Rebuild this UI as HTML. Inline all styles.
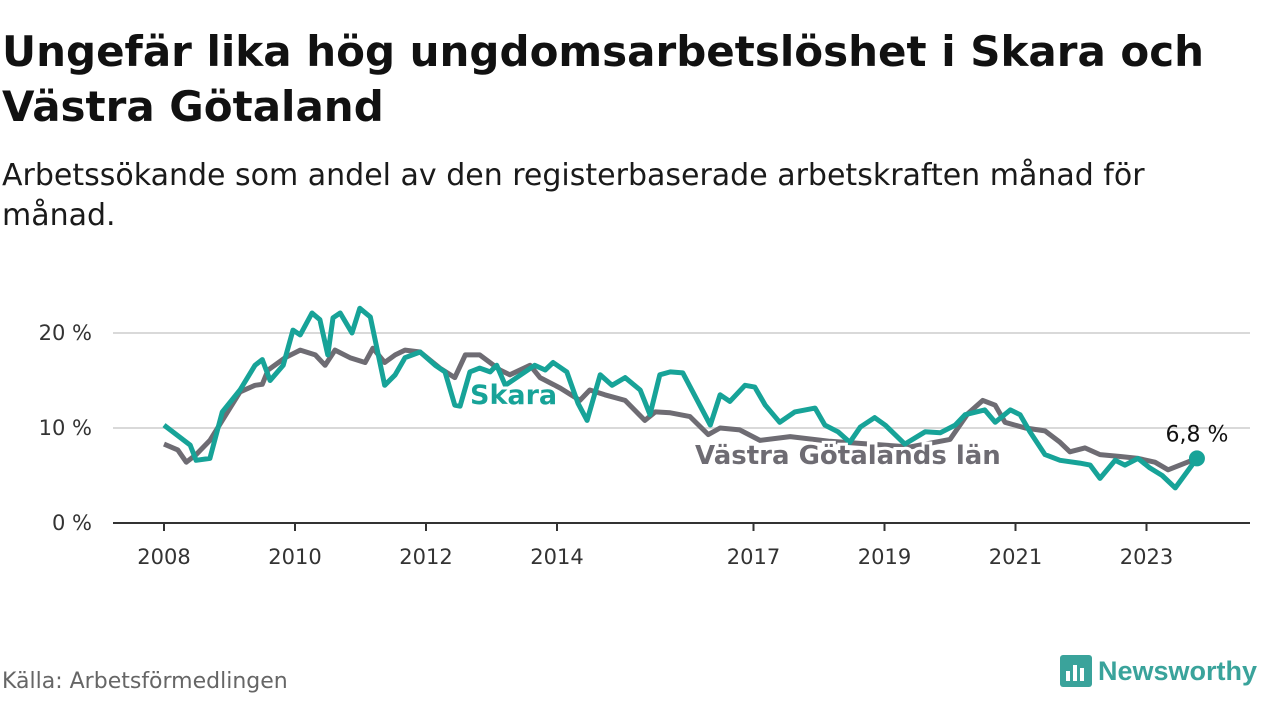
<!DOCTYPE html>
<html><head><meta charset="utf-8">
<style>
body{margin:0;width:1280px;height:720px;background:#fff;font-family:"DejaVu Sans","Liberation Sans",sans-serif;overflow:hidden;position:relative}
h1{position:absolute;left:2px;top:24px;margin:0;font-size:42px;line-height:55px;font-weight:bold;color:#111;letter-spacing:0px}
.sub{position:absolute;left:2px;top:156px;font-size:30px;line-height:40px;color:#1a1a1a}
.src{position:absolute;left:2px;top:669px;font-size:22px;color:#666}
.logo{position:absolute;left:1060px;top:655px;display:flex;align-items:center}
.logo span{font-size:27px;font-weight:bold;color:#3aa39b;margin-left:6px;font-family:"Liberation Sans",sans-serif}
</style></head><body>
<h1>Ungefär lika hög ungdomsarbetslöshet i Skara och<br>Västra Götaland</h1>
<div class="sub">Arbetssökande som andel av den registerbaserade arbetskraften månad för<br>månad.</div>
<svg id="chart" width="1280" height="720" style="position:absolute;left:0;top:0"></svg>
<div class="src">Källa: Arbetsförmedlingen</div>
<div class="logo">
<svg width="32" height="32"><rect x="0" y="0" width="32" height="32" rx="3" fill="#3aa39b"/><rect x="6" y="16" width="4" height="10" fill="#fff"/><rect x="13" y="10" width="4" height="16" fill="#fff"/><rect x="20" y="13" width="4" height="13" fill="#fff"/></svg>
<span>Newsworthy</span></div>
<script>
const skaraDates=[0,0.40,0.49,0.70,0.89,1.16,1.39,1.50,1.62,1.82,1.97,2.08,2.26,2.38,2.50,2.58,2.69,2.87,2.99,3.15,3.37,3.53,3.68,3.91,4.14,4.29,4.44,4.52,4.67,4.82,4.98,5.08,5.21,5.66,5.82,5.94,6.15,6.32,6.46,6.66,6.84,7.04,7.27,7.42,7.57,7.73,7.92,8.18,8.34,8.49,8.64,8.87,9.02,9.18,9.40,9.63,9.94,10.09,10.29,10.47,10.63,10.85,11.01,11.16,11.31,11.62,11.85,12.08,12.23,12.53,12.69,12.92,13.07,13.22,13.45,13.68,13.98,14.14,14.29,14.52,14.67,14.87,15.05,15.24,15.44,15.77];
const skaraValues=[10.3,8.2,6.6,6.8,11.7,14.0,16.6,17.2,15.0,16.6,20.3,19.8,22.1,21.4,17.7,21.6,22.1,20.0,22.6,21.7,14.5,15.6,17.4,18.0,16.6,15.9,12.4,12.3,15.9,16.3,15.9,16.6,14.5,16.6,16.1,16.9,15.9,12.6,10.8,15.6,14.5,15.3,14.0,11.4,15.6,15.9,15.8,12.4,10.3,13.5,12.8,14.5,14.3,12.4,10.6,11.7,12.1,10.3,9.6,8.5,10.1,11.1,10.3,9.3,8.3,9.6,9.5,10.3,11.4,11.9,10.6,11.9,11.4,9.6,7.2,6.6,6.3,6.1,4.7,6.6,6.1,6.8,5.8,5.0,3.7,6.8];
const vgDates=[0,0.21,0.34,0.49,0.70,0.89,1.16,1.39,1.50,1.59,1.85,2.08,2.31,2.46,2.61,2.84,3.07,3.19,3.37,3.53,3.68,3.91,4.21,4.44,4.60,4.82,5.13,5.28,5.59,5.74,6.05,6.35,6.50,6.73,7.04,7.34,7.50,7.73,8.03,8.31,8.49,8.79,9.10,9.56,10.17,10.78,11.39,12.0,12.27,12.50,12.69,12.84,13.15,13.45,13.68,13.83,14.06,14.29,14.60,14.87,15.13,15.33,15.77];
const vgValues=[8.3,7.7,6.4,7.2,8.7,10.8,13.8,14.5,14.6,16.1,17.4,18.2,17.7,16.6,18.2,17.4,16.9,18.4,16.9,17.7,18.2,18.0,16.3,15.3,17.7,17.7,16.1,15.6,16.6,15.3,14.2,12.9,14.0,13.5,12.9,10.8,11.7,11.6,11.2,9.3,10.0,9.8,8.7,9.1,8.6,8.3,8.0,8.8,11.5,12.9,12.4,10.6,10.0,9.7,8.5,7.5,7.9,7.2,7.0,6.8,6.4,5.6,6.8];
const yTicks=[0,10,20];
const yTickLabels=["0 %","10 %","20 %"];
const xTicks=[2008,2010,2012,2014,2017,2019,2021,2023];
const lastLabel="6,8 %";

const NS="http://www.w3.org/2000/svg";
const FF='DejaVu Sans, Liberation Sans, sans-serif';
const svg=document.getElementById('chart');
const X=y=>164+(y-2008)*65.5;
const Y=v=>523-v*9.5;
function el(t,a){const e=document.createElementNS(NS,t);for(const k in a)e.setAttribute(k,a[k]);svg.appendChild(e);return e;}
yTicks.forEach((t,i)=>{
  if(t>0){const g=el('line',{x1:113,x2:1250,y1:Y(t),y2:Y(t),stroke:'#d9d9d9','stroke-width':2});
  
  }
  const tx=el('text',{x:92,y:Y(t)+7,'text-anchor':'end','font-size':21,fill:'#333','font-family':FF});
  tx.textContent=yTickLabels[i];
  
  
});
const ax=el('line',{x1:113,x2:1250,y1:523,y2:523,stroke:'#333','stroke-width':2});


xTicks.forEach(t=>{
  const tk=el('line',{x1:X(t),x2:X(t),y1:523,y2:531,stroke:'#333','stroke-width':2});
  
  
  const tx=el('text',{x:X(t),y:564,'text-anchor':'middle','font-size':21,fill:'#333','font-family':FF});
  tx.textContent=t;
  
  
});
function path(d,v){return d.map((x,i)=>(i?'L':'M')+X(2008+x).toFixed(1)+','+Y(v[i]).toFixed(1)).join('');}
const vg=el('path',{d:path(vgDates,vgValues),fill:'none',stroke:'#6e6c73','stroke-width':5,'stroke-linejoin':'round'});


const sk=el('path',{d:path(skaraDates,skaraValues),fill:'none',stroke:'#17a398','stroke-width':5,'stroke-linejoin':'round'});


const l1=el('text',{x:470,y:404,'font-size':27,'font-weight':'bold',fill:'#17a398',stroke:'#fff','stroke-width':6,'paint-order':'stroke','font-family':FF});
l1.textContent='Skara';


const l2=el('text',{x:695,y:464,'font-size':26,'font-weight':'bold',fill:'#6e6c73',stroke:'#fff','stroke-width':6,'paint-order':'stroke','font-family':FF});
l2.textContent='Västra Götalands län';


const li=skaraDates.length-1;
const dot=el('circle',{cx:X(2008+skaraDates[li]),cy:Y(skaraValues[li]),r:8,fill:'#17a398'});


const lv=el('text',{x:X(2008+skaraDates[li]),y:Y(skaraValues[li])-17,'text-anchor':'middle','font-size':22,fill:'#111','font-family':FF});
lv.textContent=lastLabel;


</script>
</body></html>
